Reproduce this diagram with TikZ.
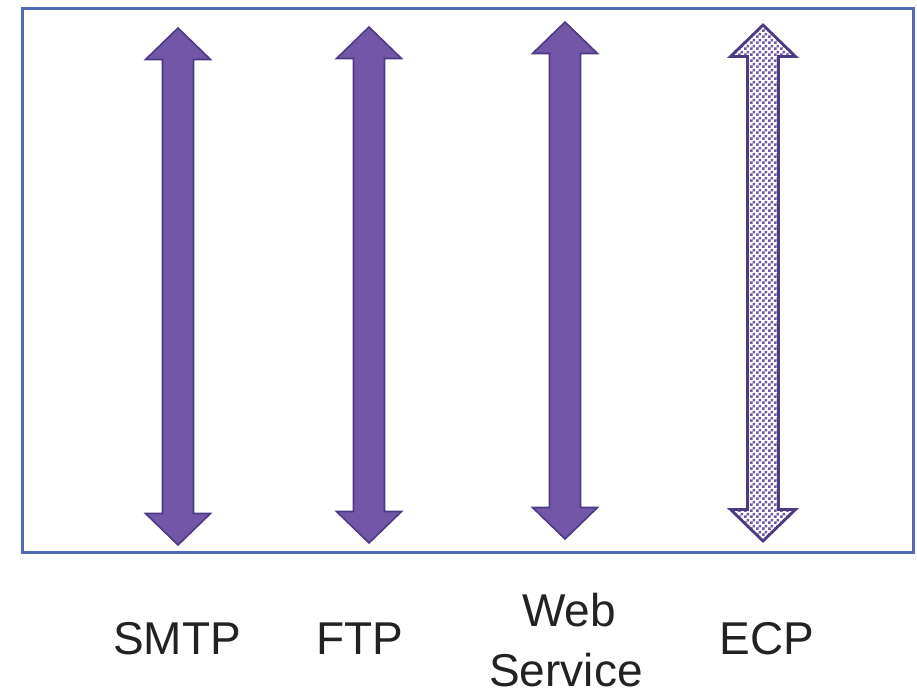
\documentclass[tikz,border=0pt]{standalone}
\usepackage{fontspec}
\setmainfont{Liberation Sans}
\usetikzlibrary{patterns}
\definecolor{frameblue}{RGB}{82,106,182}
\definecolor{arrfill}{RGB}{114,87,166}
\definecolor{arrline}{RGB}{76,58,132}
\definecolor{txt}{RGB}{34,34,34}
\pgfdeclarepatternformonly{checker}{\pgfpointorigin}{\pgfpoint{6pt}{6pt}}{\pgfpoint{6pt}{6pt}}{%
  \pgfpathrectangle{\pgfpointorigin}{\pgfpoint{3pt}{3pt}}%
  \pgfpathrectangle{\pgfpoint{3pt}{3pt}}{\pgfpoint{3pt}{3pt}}%
  \pgfusepath{fill}}
\tikzset{
  pics/dblarrow/.style n args={2}{code={
    \path[pic actions] (0,#1) -- (32.5,#1+31.5) -- (15.5,#1+31.5) -- (15.5,#2-31.5)
      -- (32.5,#2-31.5) -- (0,#2) -- (-32.5,#2-31.5) -- (-15.5,#2-31.5)
      -- (-15.5,#1+31.5) -- (-32.5,#1+31.5) -- cycle;
  }},
  solidarrow/.style={fill=arrfill, draw=arrline, line width=1.6pt, line join=miter},
  patternarrow/.style={preaction={fill=arrfill!22}, pattern=checker, pattern color=arrfill, draw=arrline, line width=2.8pt, line join=miter},
  frame/.style={draw=frameblue, line width=3pt},
  label/.style={font=\fontsize{46}{66}\selectfont, text=txt, anchor=base, inner sep=0pt, text depth=0pt}
}
\begin{document}
\begin{tikzpicture}[x=1pt,y=-1pt]
\useasboundingbox (0,0) rectangle (917,691);
\draw[frame] (22,8) rectangle (913,552);
\pic[solidarrow] (smtpArrow) at (178,0) {dblarrow={28}{545}};
\pic[solidarrow] (ftpArrow) at (369,0) {dblarrow={27}{543}};
\pic[solidarrow] (webArrow) at (565,0) {dblarrow={22}{539}};
\pic[patternarrow] (ecpArrow) at (763,0) {dblarrow={25}{541}};
\node[label] (smtp) at (177,654) {SMTP};
\node[label] (ftp) at (360,654) {FTP};
\node[label] (web) at (569,626) {Web};
\node[label] (service) at (566,686) {Service};
\node[label] (ecp) at (767,654) {ECP};
\end{tikzpicture}
\end{document}
